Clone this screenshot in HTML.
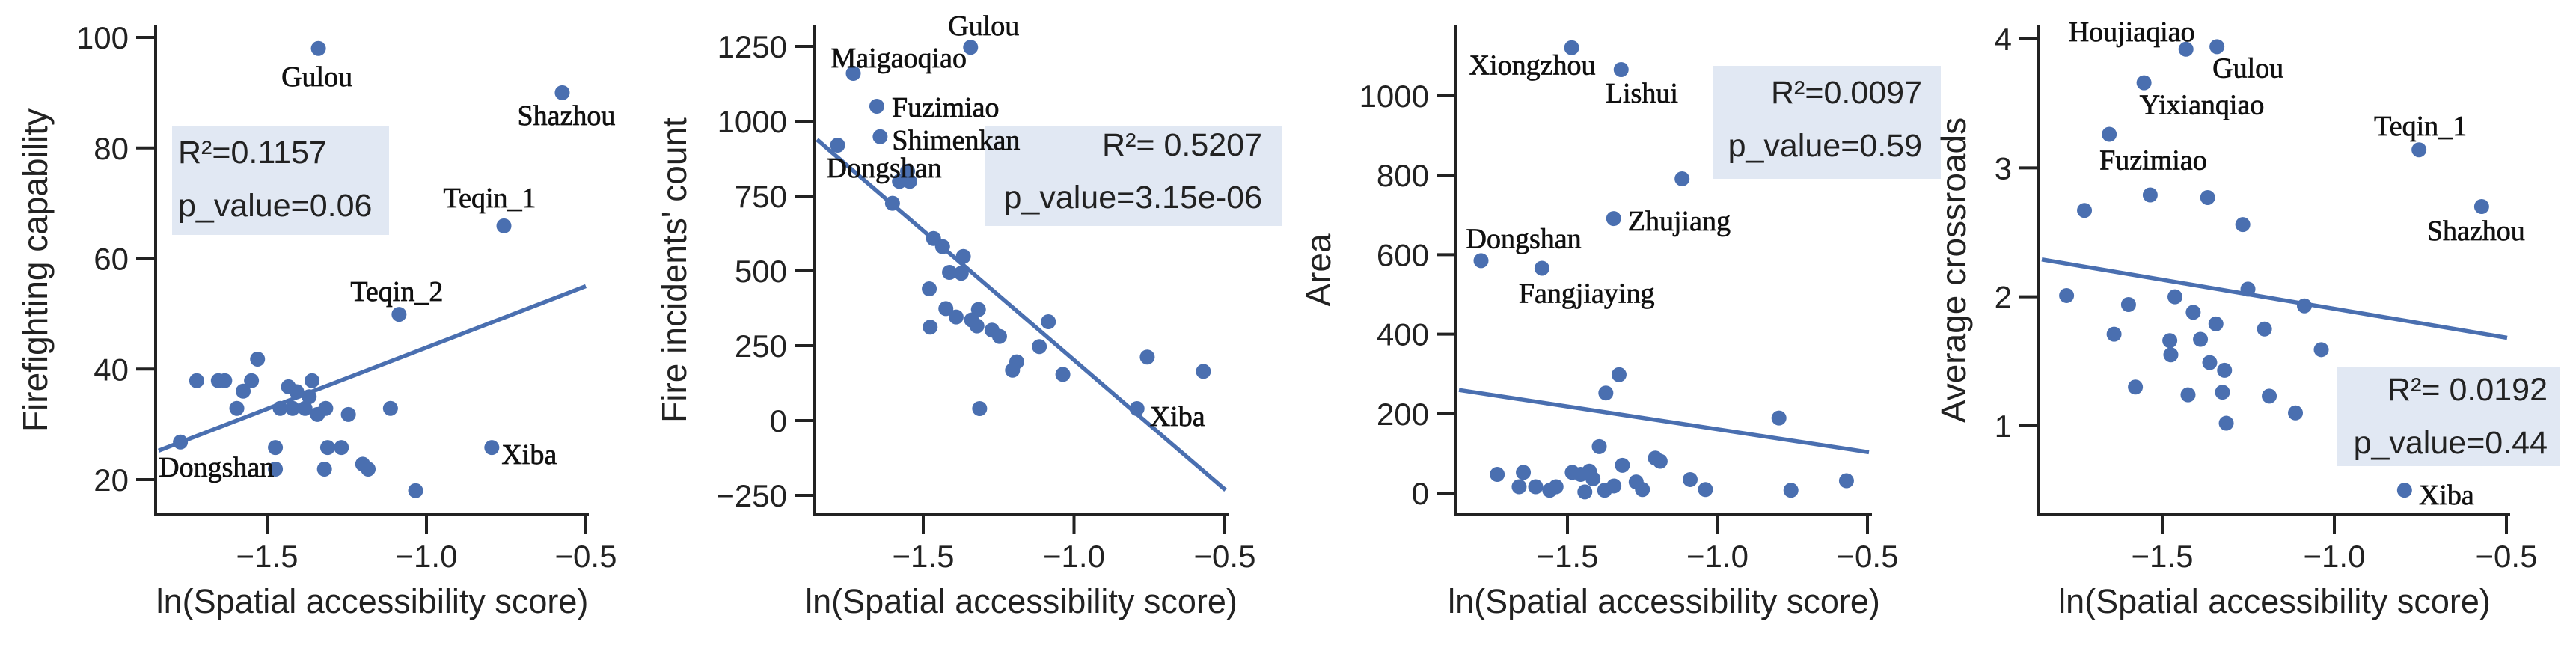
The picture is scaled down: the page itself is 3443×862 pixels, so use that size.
<!DOCTYPE html>
<html><head><meta charset="utf-8">
<style>
html,body{margin:0;padding:0;background:#fff;}
svg{display:block;}
text{font-family:"Liberation Sans",sans-serif;fill:#222;}
.lab{font-family:"Liberation Serif",serif;font-weight:normal;fill:#111;stroke:#111;stroke-width:0.7;font-size:38px;}
</style></head>
<body>
<svg id="chart" width="3443" height="862" viewBox="0 0 3443 862" xmlns="http://www.w3.org/2000/svg"></svg>
<script>
// ---- Panel 1 data: Firefighting capability ----
const p1X = [-1.339,-0.574,-0.757,-1.086,-0.795,-1.772,-1.034,-1.113,-1.530,-1.721,-1.653,-1.633,-1.549,-1.359,-1.433,-1.407,-1.368,-1.575,-1.595,-1.459,-1.420,-1.381,-1.316,-1.342,-1.245,-1.474,-1.474,-1.310,-1.267,-1.320,-1.200,-1.183];
const p1Y = [98.0,90,65.9,49.9,25.8,26.8,18,32.9,41.8,37.9,37.9,37.9,37.9,37.9,36.8,35.9,35,36.0,32.9,32.9,32.9,32.9,32.9,31.8,31.8,25.8,21.9,25.8,25.8,21.9,22.8,21.9];
const p1Fit = [66.1, 22.2];
const p1Ticks = [20,40,60,80,100];
const p1Stats = ["R²=0.1157","p_value=0.06"];
// ---- Panel 2 data: Fire incidents' count ----
const p2X = [-1.343,-1.732,-1.654,-1.643,-1.784,-1.579,-1.545,-1.552,-1.602,-1.466,-1.436,-1.367,-1.413,-1.374,-1.480,-1.425,-1.391,-1.317,-1.340,-1.322,-1.477,-1.272,-1.247,-1.115,-1.085,-1.190,-1.204,-1.037,-1.313,-0.791,-0.757,-0.571];
const p2Y = [1247,1160,1050,948,920,799,799,833,726,608,581,548,495,492,440,374,346,371,336,316,312,302,281,247,330,196,168,154,40,40,212,164];
const p2Fit = [-662, -864];
const p2Ticks = [-250,0,250,500,750,1000,1250];
const p2Stats = ["R²= 0.5207","p_value=3.15e-06"];
// ---- Panel 3 data: Area ----
const p3X = [-1.486,-1.321,-1.118,-1.346,-1.788,-1.585,-1.328,-1.372,-0.795,-1.394,-1.734,-1.647,-1.661,-1.606,-1.559,-1.538,-1.484,-1.456,-1.427,-1.415,-1.442,-1.376,-1.345,-1.317,-1.271,-1.250,-1.207,-1.191,-1.091,-1.040,-0.755,-0.570];
const p3Y = [1121,1066,791,691,585,566,298,252,189,117,47,52,16,16,7,16,52,47,55,36,3,7,18,70,28,9,88,80,34,9,7,31];
const p3Fit = [46, -114.7];
const p3Ticks = [0,200,400,600,800,1000];
const p3Stats = ["R²=0.0097","p_value=0.59"];
// ---- Panel 4 data: Average crossroads ----
const p4X = [-1.431,-1.341,-1.553,-1.654,-0.754,-0.572,-1.726,-1.535,-1.368,-1.266,-1.251,-1.778,-1.463,-1.598,-1.410,-1.087,-1.344,-1.203,-1.640,-1.478,-1.475,-1.389,-1.038,-1.362,-1.319,-1.578,-1.425,-1.325,-1.189,-1.113,-1.314,-0.796];
const p4Y = [3.92,3.94,3.66,3.26,3.14,2.70,2.67,2.79,2.77,2.56,2.06,2.01,2.00,1.94,1.88,1.93,1.79,1.75,1.71,1.66,1.55,1.67,1.59,1.49,1.43,1.30,1.24,1.26,1.23,1.10,1.02,0.50];
const p4Fit = [1.458, -0.4495];
const p4Ticks = [1,2,3,4];
const p4Stats = ["R²= 0.0192","p_value=0.44"];
const xTicks = [-1.5,-1.0,-0.5];
const xTickText = ["\u22121.5","\u22121.0","\u22120.5"];

const NS = "http://www.w3.org/2000/svg";
const svg = document.getElementById('chart');
const BLUE = "#4a6fb0";
function mk(tag, attrs, parent){
  const e = document.createElementNS(NS, tag);
  for (const k in attrs) e.setAttribute(k, attrs[k]);
  (parent||svg).appendChild(e);
  return e;
}
const panels = [
 {id:'firefighting', xs:p1X, ys:p1Y, fit:p1Fit, ticks:p1Ticks, stats:p1Stats, title:'Firefighting capability',
  axL:208, axR:787, xr:[[-1.5,357],[-0.5,783]], yr:[[20,641],[100,50]], titleX:63,
  box:{x:230,y:168,w:290,h:146,tx:238,anchor:'start',b1:218,b2:289},
  labels:[['Gulou',0,-2,50,'middle'],['Shazhou',1,-60,43],['Teqin_1',2,-81,-25],['Teqin_2',3,-65,-18],['Xiba',4,13,22],['Dongshan',5,-29,46]]},
 {id:'fire-incidents', xs:p2X, ys:p2Y, fit:p2Fit, ticks:p2Ticks, stats:p2Stats, title:"Fire incidents' count",
  axL:1088, axR:1642, xr:[[-1.5,1234],[-0.5,1637]], yr:[[-250,662],[1250,62]], titleX:917,
  box:{x:1316,y:168,w:398,h:134,tx:1687,anchor:'end',b1:208,b2:278},
  labels:[['Gulou',0,-30,-16],['Maigaoqiao',1,-30,-8],['Fuzimiao',2,20,14],['Shimenkan',3,16,17],['Dongshan',4,-15,43],['Xiba',29,17,23]]},
 {id:'area', xs:p3X, ys:p3Y, fit:p3Fit, ticks:p3Ticks, stats:p3Stats, title:'Area',
  axL:1946, axR:2502, xr:[[-1.5,2095],[-0.5,2496]], yr:[[0,659],[1000,128]], titleX:1778,
  box:{x:2290,y:88,w:304,h:151,tx:2569,anchor:'end',b1:138,b2:209},
  labels:[['Xiongzhou',0,-137,36],['Lishui',1,-21,44],['Zhujiang',3,19,16],['Dongshan',4,-20,-17],['Fangjiaying',5,-31,46]]},
 {id:'crossroads', xs:p4X, ys:p4Y, fit:p4Fit, ticks:p4Ticks, stats:p4Stats, title:'Average crossroads',
  axL:2725, axR:3355, xr:[[-1.5,2890],[-0.5,3350]], yr:[[1,569],[4,52]], titleX:2627,
  box:{x:3123,y:491,w:299,h:132,tx:3405,anchor:'end',b1:535,b2:606},
  labels:[['Houjiaqiao',0,-157,-11],['Gulou',1,-6,41],['Yixianqiao',2,-6,42],['Fuzimiao',3,-13,47],['Teqin_1',4,-60,-19],['Shazhou',5,-73,45],['Xiba',31,19,19]]}
];
const TOP=34, BOT=688;
panels.forEach(p=>{
  const g = mk('g',{});
  
  
  const xs = v => p.xr[0][1] + (v - p.xr[0][0])*(p.xr[1][1]-p.xr[0][1])/(p.xr[1][0]-p.xr[0][0]);
  const ys = v => p.yr[0][1] + (v - p.yr[0][0])*(p.yr[1][1]-p.yr[0][1])/(p.yr[1][0]-p.yr[0][0]);
  const xinv = px => p.xr[0][0] + (px - p.xr[0][1])*(p.xr[1][0]-p.xr[0][0])/(p.xr[1][1]-p.xr[0][1]);
  const bg = mk('g',{},g);
  
  
  mk('rect',{x:p.box.x,y:p.box.y,width:p.box.w,height:p.box.h,fill:'#e1e8f3'},bg);
  const t1 = mk('text',{x:p.box.tx,y:p.box.b1,'font-size':43,'text-anchor':p.box.anchor},bg); t1.textContent=p.stats[0];
  const t2 = mk('text',{x:p.box.tx,y:p.box.b2,'font-size':43,'text-anchor':p.box.anchor},bg); t2.textContent=p.stats[1];
  const ax = mk('path',{d:`M${p.axL},${TOP} V${BOT} H${p.axR}`,fill:'none',stroke:'#222','stroke-width':4},g);
  
  
  p.ticks.forEach(v=>{
    const y = ys(v);
    mk('line',{x1:p.axL-26,x2:p.axL,y1:y,y2:y,stroke:'#222','stroke-width':4},g);
    const t = mk('text',{x:p.axL-36,y:y+15,'font-size':42,'text-anchor':'end'},g);
    
    
    t.textContent = String(v).replace('-','\u2212');
  });
  xTicks.forEach((v,i)=>{
    const x = xs(v);
    mk('line',{x1:x,x2:x,y1:BOT,y2:BOT+26,stroke:'#222','stroke-width':4},g);
    const t = mk('text',{x:x,y:758,'font-size':42,'text-anchor':'middle'},g);
    
    
    t.textContent = xTickText[i];
  });
  const xt = mk('text',{x:(p.axL+p.axR)/2,y:819,'font-size':45,'text-anchor':'middle'},g);
  
  
  xt.textContent='ln(Spatial accessibility score)';
  const yt = mk('text',{x:0,y:0,'font-size':46,'text-anchor':'middle',transform:`translate(${p.titleX},361) rotate(-90)`},g);
  
  
  yt.textContent=p.title;
  p.xs.forEach((v,i)=>{
    const c = mk('circle',{cx:xs(v),cy:ys(p.ys[i]),r:10,fill:BLUE},g);
    
    
  });
  const x0 = xinv(p.axL+4), x1 = xinv(p.axR-4);
  const ln = mk('line',{x1:xs(x0),y1:ys(p.fit[0]+p.fit[1]*x0),x2:xs(x1),y2:ys(p.fit[0]+p.fit[1]*x1),stroke:BLUE,'stroke-width':5.5},g);
  
  
  p.labels.forEach(l=>{
    const i=l[1];
    const t = mk('text',{class:'lab',x:xs(p.xs[i])+l[2],y:ys(p.ys[i])+l[3],'text-anchor':l[4]||'start'},g);
    
    
    t.textContent=l[0];
  });
});
</script>
</body></html>
